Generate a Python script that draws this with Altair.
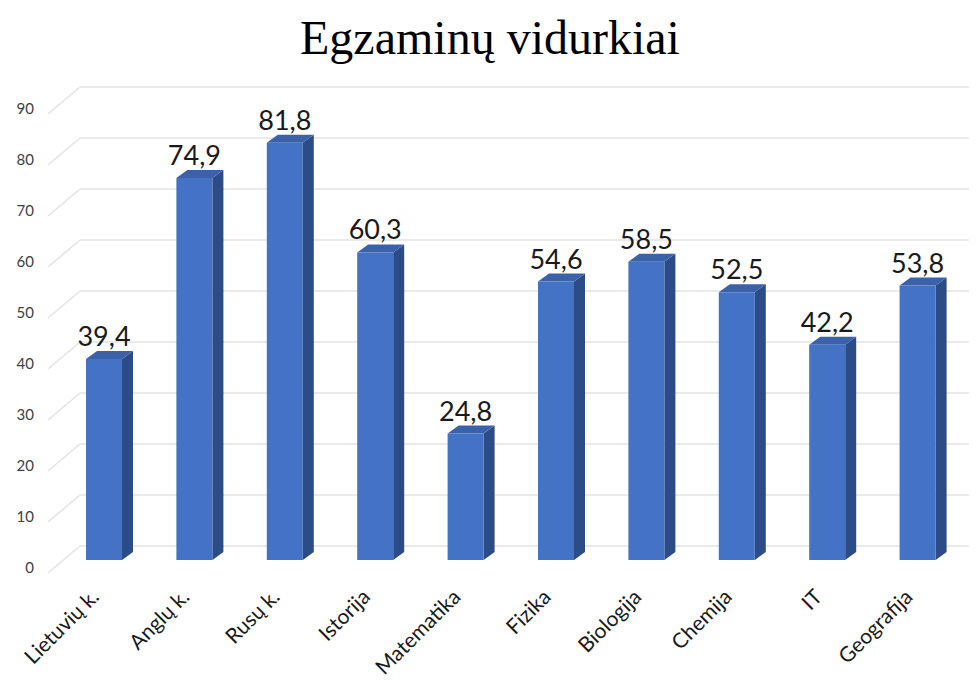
import altair as alt
import pandas as pd

# ---- data ----
categories = ["Lietuvių k.", "Anglų k.", "Rusų k.", "Istorija", "Matematika",
              "Fizika", "Biologija", "Chemija", "IT", "Geografija"]
values = [39.4, 74.9, 81.8, 60.3, 24.8, 54.6, 58.5, 52.5, 42.2, 53.8]
y_ticks = [0, 10, 20, 30, 40, 50, 60, 70, 80, 90]
title_text = "Egzaminų vidurkiai"

df = pd.DataFrame({"cat": categories, "value": values, "idx": list(range(len(categories)))})
grid_df = pd.DataFrame({"v": y_ticks})

# ---- layout (style) ----
W, H = 961, 677
Y_PX = 5.1          # px per value unit
Y_ZERO = 560        # plot y of value 0 at the front plane
X_PX = 90.4         # px per category step
X_FIRST = 96        # plot x of first category
px_x = lambda p: p / X_PX
px_y = lambda p: p / Y_PX

HW = px_x(18)       # half width of bar front face
DX = px_x(11)       # depth x
DY = px_y(8)        # depth y
BASE = px_y(8)      # bar base above front plane
WALL = px_y(22)     # back wall above front plane

xscale = alt.Scale(domain=[-X_FIRST / X_PX, (W - X_FIRST) / X_PX], nice=False, zero=False)
yscale = alt.Scale(domain=[(Y_ZERO - H) / Y_PX, Y_ZERO / Y_PX], nice=False, zero=False)

FONT = "Lato"
FRONT = "#4472C4"
TOP = "#3B62A9"
SIDE = "#2C4C87"
GRID = "#E3E3E3"

base = alt.Chart(df)
gbase = alt.Chart(grid_df)

# back-wall gridlines
wall_lines = gbase.mark_rule(color=GRID, strokeWidth=1.5).transform_calculate(
    yw=f"datum.v + {WALL}"
).encode(
    x=alt.value(72), x2=alt.value(W),
    y=alt.Y("yw:Q", scale=yscale, axis=None),
)

# floor diagonals from the front axis to the wall
diag_lines = gbase.mark_rule(color=GRID, strokeWidth=1.5).transform_calculate(
    yf=f"datum.v - {px_y(5)}", yw=f"datum.v + {WALL}"
).encode(
    x=alt.value(40), x2=alt.value(72),
    y=alt.Y("yf:Q", scale=yscale, axis=None),
    y2="yw:Q",
)

# y axis labels on the front plane
ylabels = gbase.mark_text(font=FONT, fontSize=15, color="#404040", align="right",
                          baseline="middle").encode(
    x=alt.value(26),
    y=alt.Y("v:Q", scale=yscale, axis=None),
    text="v:Q",
)

# bar side faces
side = base.transform_calculate(
    xa=f"datum.idx + {HW}", xb=f"datum.idx + {HW + DX}"
).transform_fold(["xa", "xb"], as_=["edge", "xs"]).transform_calculate(
    off=f"datum.edge == 'xa' ? {BASE} : {BASE + DY}"
).transform_calculate(
    ylo="datum.off", yhi="datum.value + datum.off"
).mark_area(color=SIDE, opacity=1).encode(
    x=alt.X("xs:Q", scale=xscale, axis=None),
    y=alt.Y("yhi:Q", scale=yscale, axis=None),
    y2="ylo:Q",
    detail="cat:N",
)

# bar top faces
top = base.transform_calculate(
    ya=f"datum.value + {BASE}", yb=f"datum.value + {BASE + DY}"
).transform_fold(["ya", "yb"], as_=["lvl", "ys"]).transform_calculate(
    shift=f"datum.lvl == 'ya' ? 0 : {DX}"
).transform_calculate(
    xl=f"datum.idx - {HW} + datum.shift", xr=f"datum.idx + {HW} + datum.shift"
).mark_area(color=TOP, orient="horizontal", opacity=1).encode(
    y=alt.Y("ys:Q", scale=yscale, axis=None),
    x=alt.X("xl:Q", scale=xscale, axis=None),
    x2="xr:Q",
    detail="cat:N",
)

# bar front faces
front = base.transform_calculate(
    x0=f"datum.idx - {HW}", x1=f"datum.idx + {HW}",
    y0=f"{BASE}", y1=f"datum.value + {BASE}"
).mark_rect(color=FRONT).encode(
    x=alt.X("x0:Q", scale=xscale, axis=None), x2="x1:Q",
    y=alt.Y("y1:Q", scale=yscale, axis=None), y2="y0:Q",
)

# data labels
labels = base.transform_calculate(
    yl=f"datum.value + {BASE}",
    txt="replace(format(datum.value, '.1f'), '.', ',')"
).mark_text(font=FONT, fontSize=27, color="#1a1a1a", baseline="alphabetic", dy=-13).encode(
    x=alt.X("idx:Q", scale=xscale, axis=None),
    y=alt.Y("yl:Q", scale=yscale, axis=None),
    text="txt:N",
)

# category labels (rotated)
cat_labels = base.mark_text(font=FONT, fontSize=21, color="#1a1a1a", angle=315,
                            align="right", baseline="middle", xOffset=-8).encode(
    x=alt.X("idx:Q", scale=xscale, axis=None),
    y=alt.value(586),
    text="cat:N",
)

title = alt.Chart(pd.DataFrame({"t": [title_text]})).mark_text(
    font="Liberation Serif", fontSize=48, color="#000000", align="center", baseline="alphabetic"
).encode(x=alt.value(482), y=alt.value(46), text="t:N")

chart = alt.layer(
    wall_lines, diag_lines, ylabels, side, top, front, labels, cat_labels, title
).properties(
    width=W, height=H, padding=0, autosize=alt.AutoSizeParams(type="none")
).configure_view(stroke=None)

chart.save("out.html", embed_options={"renderer": "svg", "actions": False})
